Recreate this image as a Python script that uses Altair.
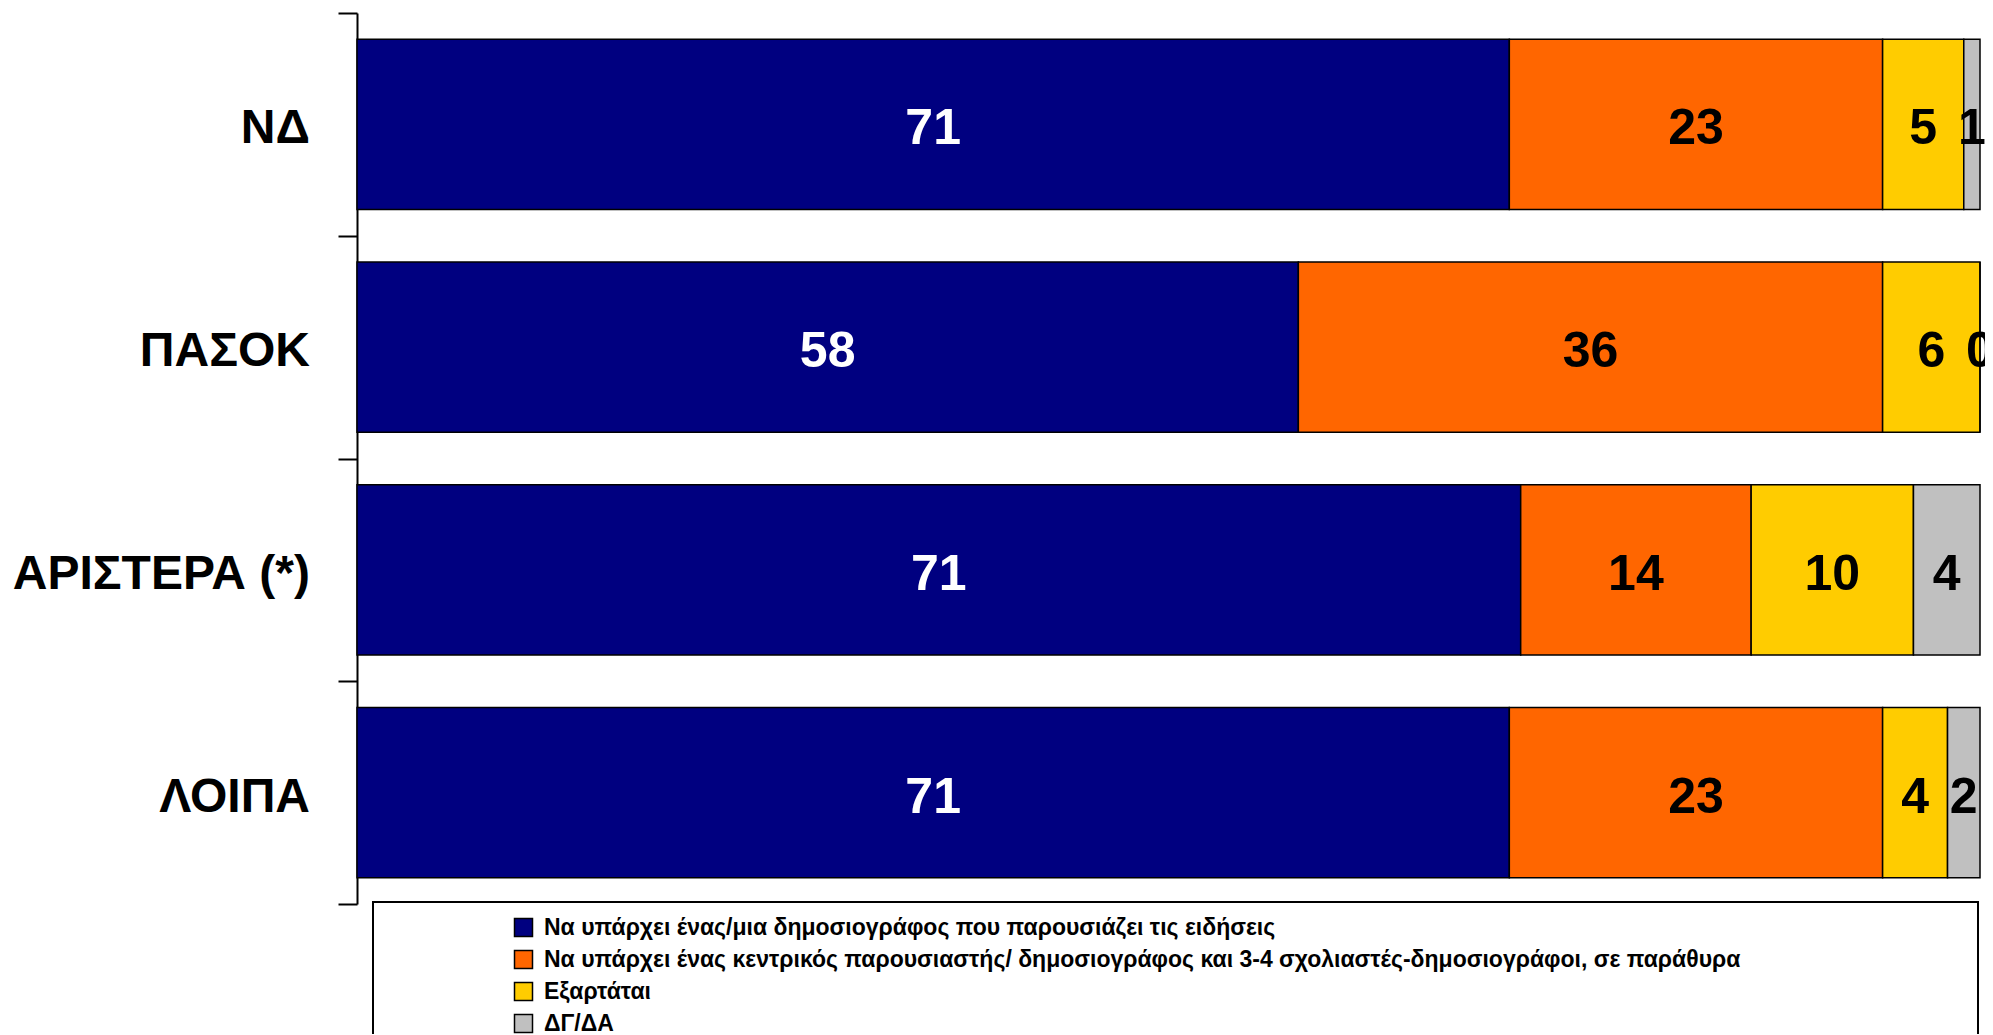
import altair as alt
import pandas as pd

categories = ["ΝΔ", "ΠΑΣΟΚ", "ΑΡΙΣΤΕΡΑ (*)", "ΛΟΙΠΑ"]
series = [
    "Να υπάρχει ένας/μια δημοσιογράφος που παρουσιάζει τις ειδήσεις",
    "Να υπάρχει ένας κεντρικός παρουσιαστής/ δημοσιογράφος και 3-4 σχολιαστές-δημοσιογράφοι, σε παράθυρα",
    "Εξαρτάται",
    "ΔΓ/ΔΑ",
]
colors = ["#000080", "#FF6600", "#FFCC00", "#C0C0C0"]

# segment lengths per category (series order)
seg_1 = [71, 58, 71.7, 71]
seg_2 = [23, 36, 14.2, 23]
seg_3 = [5, 6, 10.0, 4]
seg_4 = [1, 0, 4.1, 2]
# printed labels
lab_1 = ["71", "58", "71", "71"]
lab_2 = ["23", "36", "14", "23"]
lab_3 = ["5", "6", "10", "4"]
lab_4 = ["1", "0", "4", "2"]

segs = [seg_1, seg_2, seg_3, seg_4]
labs = [lab_1, lab_2, lab_3, lab_4]
rows = []
for ci, c in enumerate(categories):
    for si, s in enumerate(series):
        rows.append({"cat": c, "cidx": ci, "series": s, "sidx": si,
                     "value": segs[si][ci], "label": labs[si][ci]})
df = pd.DataFrame(rows)
cat_df = pd.DataFrame({"cat": categories, "cidx": list(range(len(categories)))})

FONT = "Liberation Sans"

xscale = alt.Scale(domain=[0, 100], nice=False, zero=True)
yscale = alt.Scale(domain=[0, 4], reverse=True, nice=False, zero=False)

base = alt.Chart(df).transform_stack(
    stack="value", groupby=["cat"], as_=["x0", "x1"],
    sort=[alt.SortField("sidx", order="ascending")]
).transform_calculate(
    ytop="datum.cidx + 0.118",
    ybot="datum.cidx + 0.882",
    ymid="datum.cidx + 0.5",
    xmid="(datum.x0 + datum.x1) / 2",
)

bars = base.mark_bar(stroke="black", strokeWidth=1.5).encode(
    x=alt.X("x0:Q", scale=xscale, axis=None),
    x2="x1:Q",
    y=alt.Y("ytop:Q", scale=yscale,
            axis=alt.Axis(values=[0, 1, 2, 3, 4], labels=False, title=None, grid=False,
                          tickSize=19, tickWidth=2, tickColor="black",
                          domainColor="black", domainWidth=2)),
    y2="ybot:Q",
    color=alt.Color("series:N", scale=alt.Scale(domain=series, range=colors),
                    legend=alt.Legend(orient="none", legendX=155, legendY=903, title=None,
                                      symbolType="square", symbolSize=324,
                                      symbolStrokeColor="black", symbolStrokeWidth=1.5,
                                      labelFont=FONT, labelFontSize=23, labelFontWeight="bold",
                                      labelColor="black", labelLimit=0, labelOffset=9,
                                      rowPadding=7, padding=0)),
)

values = base.mark_text(font=FONT, fontSize=50, fontWeight="bold", baseline="middle",
                        align="center", dy=5).encode(
    x=alt.X("xmid:Q", scale=xscale),
    y=alt.Y("ymid:Q", scale=yscale),
    text="label:N",
    color=alt.condition(alt.datum.sidx == 0, alt.value("white"), alt.value("black")),
)

cat_labels = alt.Chart(cat_df).transform_calculate(ymid="datum.cidx + 0.5").mark_text(
    font=FONT, fontSize=48, fontWeight="bold", align="right", baseline="middle", dy=5,
    color="black").encode(
    x=alt.value(-47),
    y=alt.Y("ymid:Q", scale=yscale),
    text="cat:N",
)

box = alt.Chart(pd.DataFrame({"a": [0]})).mark_rect(
    filled=False, stroke="black", strokeWidth=2).encode(
    x=alt.value(16), x2=alt.value(1621), y=alt.value(889), y2=alt.value(1060))

chart = alt.layer(box, bars, values, cat_labels).properties(
    width=1623, height=891,
    autosize=alt.AutoSizeParams(type="none"),
    padding={"left": 349, "top": 5, "right": 5, "bottom": 130},
).configure_view(stroke=None)

chart.save("out.html", embed_options={"renderer": "svg", "actions": False})
